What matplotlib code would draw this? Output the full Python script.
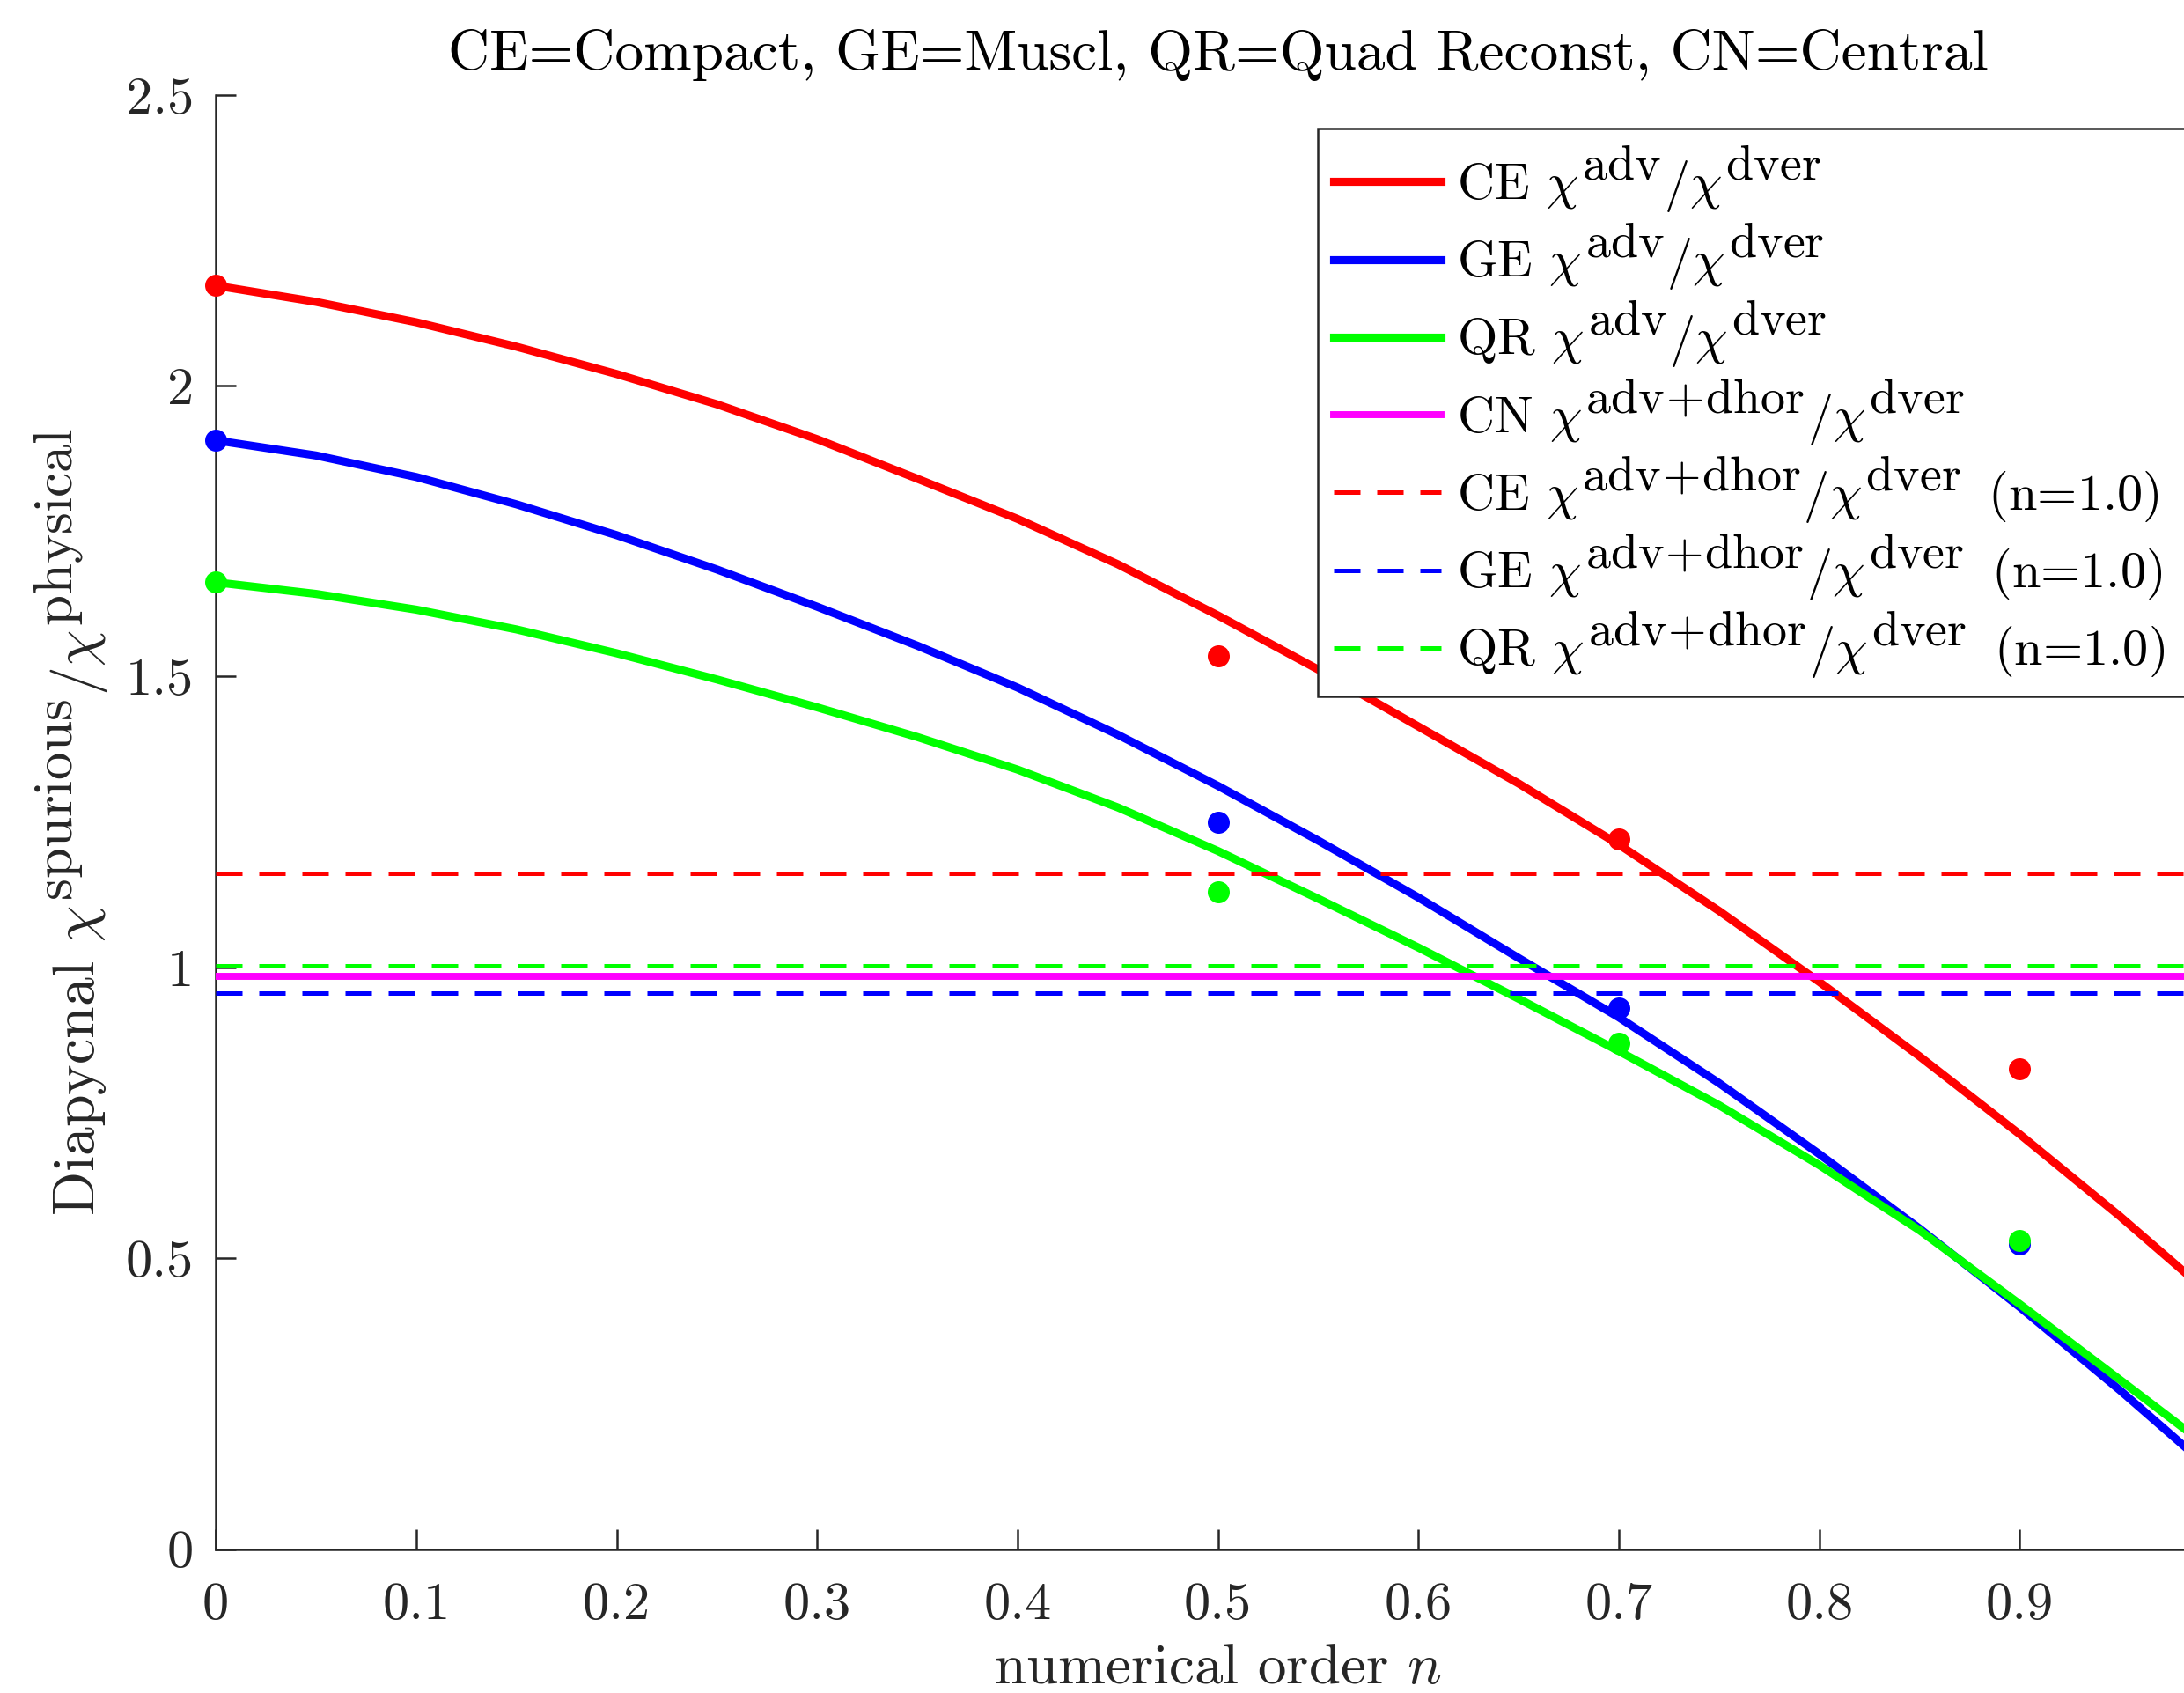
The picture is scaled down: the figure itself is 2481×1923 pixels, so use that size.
import matplotlib
matplotlib.use("Agg")
import matplotlib.pyplot as plt
import matplotlib._mathtext as _mt

# the reference renders super-scripts almost at full size
_mt.SHRINK_FACTOR = 0.96

plt.rcParams['font.family'] = 'serif'
plt.rcParams['font.serif'] = ['cmr10']
plt.rcParams['mathtext.fontset'] = 'cm'
plt.rcParams['axes.formatter.use_mathtext'] = True

# ---- data ----
n_curve = [0.00, 0.05, 0.10, 0.15, 0.20, 0.25, 0.30, 0.35, 0.40, 0.45, 0.50,
           0.55, 0.60, 0.65, 0.70, 0.75, 0.80, 0.85, 0.90, 0.95, 1.00]
ce_curve = [2.172, 2.144, 2.109, 2.067, 2.020, 1.968, 1.908, 1.840, 1.771, 1.693, 1.605,
            1.512, 1.414, 1.316, 1.211, 1.097, 0.975, 0.847, 0.713, 0.572, 0.423]
ge_curve = [1.906, 1.880, 1.843, 1.796, 1.743, 1.684, 1.620, 1.553, 1.481, 1.400, 1.312,
            1.218, 1.120, 1.016, 0.914, 0.801, 0.679, 0.551, 0.416, 0.273, 0.123]
qr_curve = [1.662, 1.642, 1.615, 1.581, 1.540, 1.495, 1.447, 1.396, 1.340, 1.275, 1.200,
            1.118, 1.034, 0.946, 0.856, 0.763, 0.660, 0.548, 0.421, 0.291, 0.160]

n_points = [0.0, 0.5, 0.7, 0.9]
ce_points = [2.172, 1.535, 1.221, 0.825]
ge_points = [1.906, 1.250, 0.930, 0.524]
qr_points = [1.662, 1.130, 0.869, 0.531]

n_span = [0.0, 1.0]
cn_level = 0.984
ce_level = 1.161
ge_level = 0.956
qr_level = 1.002

xticks = [0, 0.1, 0.2, 0.3, 0.4, 0.5, 0.6, 0.7, 0.8, 0.9]
xticklabels = ['0', '0.1', '0.2', '0.3', '0.4', '0.5', '0.6', '0.7', '0.8', '0.9']
yticks = [0, 0.5, 1.0, 1.5, 2.0, 2.5]
yticklabels = ['0', '0.5', '1', '1.5', '2', '2.5']

labels = [r'CE $\chi^{\mathrm{adv}}/\chi^{\mathrm{dver}}$',
          r'GE $\chi^{\mathrm{adv}}/\chi^{\mathrm{dver}}$',
          r'QR $\chi^{\mathrm{adv}}/\chi^{\mathrm{dver}}$',
          r'CN $\chi^{\mathrm{adv\!+\!dhor}}/\chi^{\mathrm{dver}}$',
          r'CE $\chi^{\mathrm{adv\!+\!dhor}}/\chi^{\mathrm{dver}}\,$ (n=1.0)',
          r'GE $\chi^{\mathrm{adv\!+\!dhor}}/\chi^{\mathrm{dver}}\,$ (n=1.0)',
          r'QR $\chi^{\mathrm{adv\!+\!dhor}}/\chi^{\mathrm{dver}}\,$ (n=1.0)']

RED, BLUE, GREEN, MAG = (1, 0, 0), (0, 0, 1), (0, 1, 0), (1, 0, 1)
AXC = (0.15, 0.15, 0.15)

fig = plt.figure(figsize=(2481 / 300, 1923 / 300), dpi=300)
ax = fig.add_axes([0.0988, 0.0850, 0.9178, 0.859])

lw = 2.2
h1, = ax.plot(n_curve, ce_curve, color=RED, lw=lw, label=labels[0])
h2, = ax.plot(n_curve, ge_curve, color=BLUE, lw=lw, label=labels[1])
h3, = ax.plot(n_curve, qr_curve, color=GREEN, lw=lw, label=labels[2])

ms = 6
ax.plot(n_points, ce_points, 'o', color=RED, ms=ms, mec='none', clip_on=False, zorder=3)
ax.plot(n_points, ge_points, 'o', color=BLUE, ms=ms, mec='none', clip_on=False, zorder=3)
ax.plot(n_points, qr_points, 'o', color=GREEN, ms=ms, mec='none', clip_on=False, zorder=3)

h4, = ax.plot(n_span, [cn_level, cn_level], color=MAG, lw=1.9, label=labels[3], zorder=4)
dash = (0, (6, 3.8))
h5, = ax.plot(n_span, [ce_level, ce_level], color=RED, lw=1.2, ls=dash, label=labels[4], zorder=4)
h6, = ax.plot(n_span, [ge_level, ge_level], color=BLUE, lw=1.2, ls=dash, label=labels[5], zorder=4)
h7, = ax.plot(n_span, [qr_level, qr_level], color=GREEN, lw=1.2, ls=dash, label=labels[6], zorder=4)

ax.set_xlim(0, 1)
ax.set_ylim(0, 2.5)
ax.set_xticks(xticks)
ax.set_xticklabels(xticklabels)
ax.set_yticks(yticks)
ax.set_yticklabels(yticklabels)
ax.tick_params(direction='in', length=5.5, width=0.6, color=AXC, labelcolor=AXC,
               labelsize=14.5)
ax.tick_params(axis='x', pad=9)
ax.tick_params(axis='y', pad=6)
for s in ['top', 'right']:
    ax.spines[s].set_visible(False)
for s in ['left', 'bottom']:
    ax.spines[s].set_color(AXC)
    ax.spines[s].set_linewidth(0.6)

ax.set_xlabel(r'numerical order $n$', fontsize=15.6, color=AXC, labelpad=4)
ax.set_ylabel(r'Diapycnal $\chi^{\mathrm{spurious}}/\chi^{\mathrm{physical}}$', fontsize=15.8,
              color=AXC, labelpad=4)
ax.set_title('CE=Compact, GE=Muscl, QR=Quad Reconst, CN=Central', fontsize=15.7, color='black',
             pad=7)

# legend box runs past the right edge of the picture, as in the reference
leg = fig.legend(handles=[h1, h2, h3, h4, h5, h6, h7], loc='upper left',
                 bbox_to_anchor=(0.6034, 0.40, 0.43, 0.5243), bbox_transform=fig.transFigure,
                 mode='expand',
                 fontsize=14, frameon=True, fancybox=False, framealpha=1,
                 edgecolor=(0.15, 0.15, 0.15), handlelength=2.1, handletextpad=0.3,
                 labelspacing=0.13, borderpad=0.3, borderaxespad=0)
leg.get_frame().set_linewidth(0.6)

fig.savefig('out.png', dpi=300)
